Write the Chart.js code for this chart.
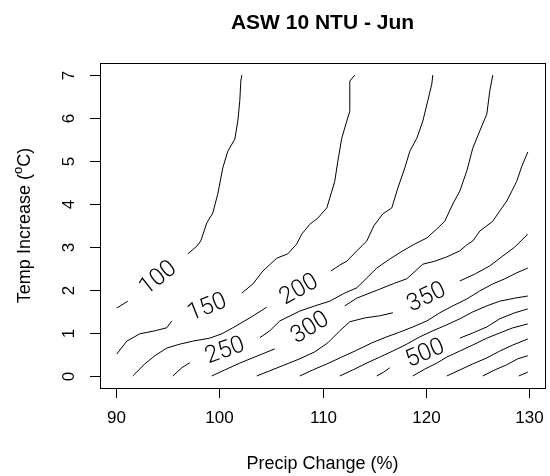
<!DOCTYPE html>
<html>
<head>
<meta charset="UTF-8">
<title>ASW 10 NTU - Jun</title>
<script src="https://cdn.jsdelivr.net/npm/chart.js"></script>
<style>
  html, body { margin: 0; padding: 0; background: #fff; }
  #wrap { width: 550px; height: 476px; }
</style>
</head>
<body>
<div id="wrap"><canvas id="chart" width="550" height="476"></canvas></div>
<script>
const chartTitle = 'ASW 10 NTU - Jun';
const xTitle = 'Precip Change (%)';
const xTicks = [90, 100, 110, 120, 130];
const yTicks = [0, 1, 2, 3, 4, 5, 6, 7];

// contour levels and the lines, [precip, temp]; null = gap for the label
const levels = [100, 150, 200, 250, 300, 350, 400, 450, 500, 550, 600, 650, 700];
const labelled = [100, 150, 200, 250, 300, 350, 500];

const c100 = [[90.03,1.58],[91.10,1.74],null,[96.92,2.84],[97.80,3.02],[98.18,3.14],[98.77,3.56],[99.35,3.79],[99.83,4.23],[100.32,4.84],[100.81,5.23],[101.49,5.51],[101.78,5.93],[101.97,6.40],[102.07,6.86],[102.17,7.0]];
const c150 = [[90.03,0.51],[91.0,0.81],[92.26,0.98],[93.72,1.05],[94.88,1.12],[95.37,1.28],null,[102.18,1.93],[103.24,2.14],[104.21,2.44],[105.56,2.74],[106.63,2.84],[107.50,3.07],[107.99,3.30],[108.77,3.53],[109.54,3.67],[110.42,3.91],[110.71,4.14],[111.19,4.53],[111.49,5.0],[111.87,5.53],[112.36,5.93],[112.65,6.16],[112.65,6.86],[113.14,7.0]];
const c200 = [[91.58,0],[92.75,0.28],[93.72,0.47],[94.88,0.65],[96.15,0.74],[97.41,0.81],[99.06,0.88],[100.22,0.98],[101.29,1.12],[102.94,1.35],[104.59,1.60],null,[110.81,2.44],[111.68,2.58],[112.36,2.67],[113.33,2.91],[114.30,3.14],[114.98,3.49],[115.85,3.77],[116.73,3.91],[117.31,4.37],[117.99,4.84],[118.48,5.23],[119.16,5.53],[119.74,5.93],[120.22,6.40],[120.61,6.79],[120.71,7.0]];
const c250 = [[95.47,0],[96.34,0.19],[97.12,0.31],null,[103.91,0.89],[104.88,1.05],[105.86,1.28],[107.80,1.51],[109.26,1.63],[110.71,1.74],[112.17,1.93],[113.33,2.05],[114.30,2.28],[115.27,2.51],[116.53,2.72],[117.79,2.91],[118.96,3.07],[120.13,3.21],[121.10,3.42],[121.87,3.60],[122.65,4.0],[123.33,4.30],[124.01,4.77],[124.59,5.30],[125.27,5.70],[125.95,6.09],[126.24,6.63],[126.53,7.0]];
const c300 = [[99.25,0],[100.51,0.14],[101.97,0.30],[103.72,0.47],[105.37,0.63],null,[112.16,1.63],[113.33,1.81],[114.59,1.93],[115.56,2.02],[117.02,2.16],[118.18,2.26],[119.74,2.60],[120.90,2.67],[122.07,2.77],[123.33,2.91],[124.01,3.05],[124.59,3.14],[125.27,3.37],[126.53,3.60],[127.21,3.84],[127.89,4.07],[128.38,4.30],[128.86,4.53],[129.35,4.88],[129.93,5.21]];
const c350 = [[103.62,0],[104.88,0.12],[106.34,0.26],[107.80,0.40],[109.25,0.56],[110.51,0.77],[111.68,1.05],[112.65,1.26],[114.11,1.35],[115.56,1.40],[116.83,1.47],null,[123.33,2.21],[124.79,2.37],[126.24,2.56],[127.50,2.79],[128.67,3.0],[129.93,3.30]];
const c400 = [[107.80,0],[109.06,0.14],[110.42,0.28],[111.87,0.44],[113.33,0.60],[114.79,0.77],[116.24,0.91],[117.50,1.02],[118.77,1.14],[120.13,1.28],[121.39,1.47],[122.65,1.63],[124.01,1.79],[125.27,1.98],[126.53,2.14],[127.70,2.26],[128.86,2.40],[129.93,2.51]];
const c450 = [[111.68,0],[112.94,0.14],[114.30,0.30],[115.56,0.44],[116.83,0.58],[118.18,0.74],[119.45,0.91],[120.71,1.05],[122.07,1.19],[123.33,1.33],[124.59,1.49],[125.95,1.63],[127.21,1.74],[128.67,1.81],[129.93,1.86]];
const c500 = [[115.27,0],[115.95,0.09],[116.53,0.19],null,[123.33,0.88],[124.59,1.0],[125.95,1.14],[127.21,1.33],[128.67,1.47],[129.93,1.56]];
const c550 = [[118.77,0],[119.93,0.16],[121.10,0.30],[122.07,0.44],[123.33,0.58],[124.59,0.72],[125.95,0.88],[127.21,1.0],[128.48,1.12],[129.93,1.21]];
const c600 = [[122.07,0],[123.33,0.14],[124.59,0.28],[125.95,0.42],[127.21,0.58],[128.48,0.72],[129.93,0.86]];
const c650 = [[125.56,0],[126.73,0.14],[127.89,0.26],[128.96,0.40],[129.93,0.47]];
const c700 = [[129.06,0],[129.54,0.05],[129.93,0.09]];
const contours = [c100, c150, c200, c250, c300, c350, c400, c450, c500, c550, c600, c650, c700];

const datasets = contours.map((line, i) => ({
  label: String(levels[i]),
  data: line.map((p, k) => p ? { x: p[0], y: p[1] } : { x: line[k - 1][0], y: null }),
  borderColor: '#000',
  borderWidth: 1,
  pointRadius: 0,
  tension: 0,
  spanGaps: false,
  fill: false
}));

const FONT = '"Liberation Sans", Arial, sans-serif';

const rAxes = {
  id: 'rAxes',
  afterDraw(chart) {
    const { ctx, chartArea: a, scales: { x, y } } = chart;
    ctx.save();
    ctx.strokeStyle = '#000';
    ctx.fillStyle = '#000';
    ctx.lineWidth = 1;
    // box
    ctx.strokeRect(Math.round(a.left) + 0.5, Math.round(a.top) + 0.5, Math.round(a.right - a.left), Math.round(a.bottom - a.top));

    // x axis
    ctx.font = '17px ' + FONT;
    ctx.textAlign = 'center';
    ctx.textBaseline = 'middle';
    xTicks.forEach(v => {
      const px = Math.round(x.getPixelForValue(v)) + 0.5;
      ctx.beginPath();
      ctx.moveTo(px, a.bottom);
      ctx.lineTo(px, a.bottom + 10);
      ctx.stroke();
      ctx.fillText(String(v), px, a.bottom + 30);
    });

    // y axis
    yTicks.forEach(v => {
      const py = Math.round(y.getPixelForValue(v)) + 0.5;
      ctx.beginPath();
      ctx.moveTo(a.left, py);
      ctx.lineTo(a.left - 10, py);
      ctx.stroke();
      ctx.save();
      ctx.translate(69, py);
      ctx.rotate(-Math.PI / 2);
      ctx.fillText(String(v), 0, 0);
      ctx.restore();
    });

    ctx.font = '18px ' + FONT;
    ctx.fillText(xTitle, (a.left + a.right) / 2, 464);

    // y title with raised o
    ctx.save();
    ctx.translate(25, (a.top + a.bottom) / 2);
    ctx.rotate(-Math.PI / 2);
    const parts = [['Temp Increase (', 18, 0], ['o', 13, -7], ['C)', 18, 0]];
    let total = 0;
    parts.forEach(p => { ctx.font = p[1] + 'px ' + FONT; total += ctx.measureText(p[0]).width; });
    let cx = -total / 2;
    ctx.textAlign = 'left';
    parts.forEach(p => {
      ctx.font = p[1] + 'px ' + FONT;
      ctx.fillText(p[0], cx, p[2]);
      cx += ctx.measureText(p[0]).width;
    });
    ctx.restore();

    // title
    ctx.font = 'bold 21px ' + FONT;
    ctx.textAlign = 'center';
    ctx.fillText(chartTitle, (a.left + a.right) / 2, 23);

    // contour labels in the gaps
    ctx.font = '300 24px Roboto, ' + FONT;
    contours.forEach((line, i) => {
      if (!labelled.includes(levels[i])) return;
      const k = line.indexOf(null);
      if (k < 1) return;
      const p0 = line[k - 1], p1 = line[k + 1];
      const x0 = x.getPixelForValue(p0[0]), y0 = y.getPixelForValue(p0[1]);
      const x1 = x.getPixelForValue(p1[0]), y1 = y.getPixelForValue(p1[1]);
      ctx.save();
      ctx.translate((x0 + x1) / 2, (y0 + y1) / 2);
      ctx.rotate(Math.atan2(y1 - y0, x1 - x0));
      ctx.textAlign = 'center';
      ctx.textBaseline = 'middle';
      ctx.fillText(String(levels[i]), 0, 1);
      ctx.restore();
    });
    ctx.restore();
  }
};

new Chart(document.getElementById('chart'), {
  type: 'line',
  data: { datasets },
  options: {
    responsive: false,
    animation: false,
    layout: { padding: { left: 100, right: 5, top: 63, bottom: 88 } },
    scales: {
      x: { type: 'linear', min: 88.4, max: 131.6, display: false },
      y: { type: 'linear', min: -0.28, max: 7.28, display: false }
    },
    plugins: { legend: { display: false }, tooltip: { enabled: false }, title: { display: false } }
  },
  plugins: [rAxes]
});
</script>
</body>
</html>
